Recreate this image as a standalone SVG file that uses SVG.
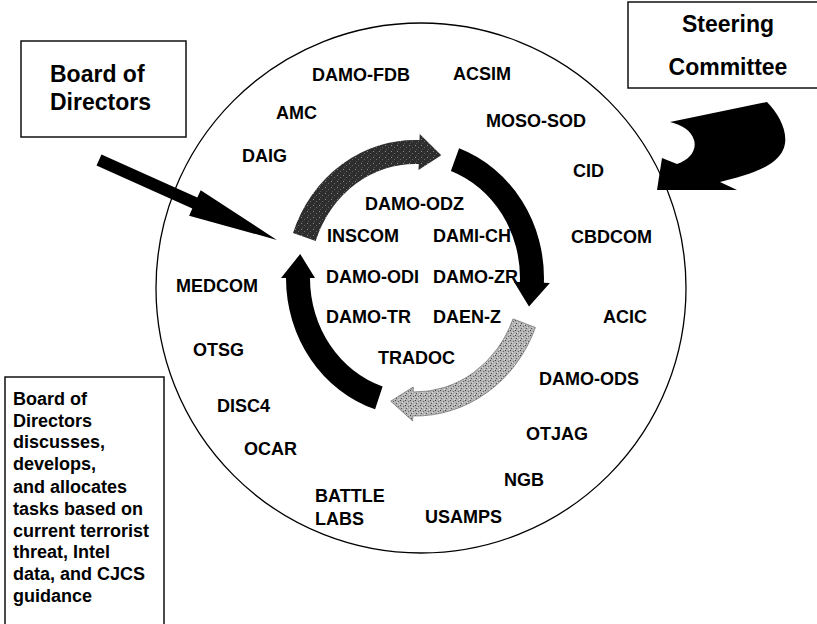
<svg xmlns="http://www.w3.org/2000/svg" width="817" height="624" viewBox="0 0 817 624">
<style>
.lbl{font-family:"Liberation Sans",Arial,sans-serif;font-weight:bold;font-size:18px;fill:#000}
.big{font-family:"Liberation Sans",Arial,sans-serif;font-weight:bold;font-size:23px;fill:#000}
.note{font-family:"Liberation Sans",Arial,sans-serif;font-weight:bold;font-size:18px;fill:#000}
.box{fill:#fff;stroke:#111;stroke-width:1.5}
.ring{fill:none;stroke:#000;stroke-width:1.3}
.blk{fill:#000}
</style>
<defs>
<pattern id="stipDark" width="6" height="6" patternUnits="userSpaceOnUse">
<rect width="6" height="6" fill="#2e2e2e"/>
<rect x="1" y="1" width="1" height="1" fill="#8a8a8a"/>
<rect x="4" y="3" width="1" height="1" fill="#6a6a6a"/>
<rect x="2" y="5" width="1" height="1" fill="#555"/>
</pattern>
<pattern id="stipLight" width="5" height="5" patternUnits="userSpaceOnUse">
<rect width="5" height="5" fill="#b4b4b4"/>
<rect x="0" y="0" width="1" height="1" fill="#444"/>
<rect x="3" y="1" width="1" height="1" fill="#666"/>
<rect x="1" y="3" width="1" height="1" fill="#555"/>
<rect x="4" y="4" width="1" height="1" fill="#e0e0e0"/>
<rect x="2" y="2" width="1" height="1" fill="#d8d8d8"/>
</pattern>
</defs>
<rect width="817" height="624" fill="#fff"/>

<g id="circle-boundary">
<circle class="ring" cx="421" cy="288" r="265"/>
</g>

<g id="board-of-directors">
<rect class="box" x="21" y="41" width="165" height="96"/>
<text class="big" x="50" y="82">Board of</text>
<text class="big" x="50" y="110">Directors</text>
</g>

<g id="steering-committee">
<rect class="box" x="628" y="2" width="195" height="86"/>
<text class="big" x="728" y="32" text-anchor="middle">Steering</text>
<text class="big" x="728" y="75" text-anchor="middle">Committee</text>
</g>

<g id="note-box">
<rect class="box" x="5" y="377" width="159" height="260"/>
<text class="note" x="13" y="405">Board of</text>
<text class="note" x="13" y="427">Directors</text>
<text class="note" x="13" y="448">discusses,</text>
<text class="note" x="13" y="470">develops,</text>
<text class="note" x="13" y="493">and allocates</text>
<text class="note" x="13" y="515">tasks based on</text>
<text class="note" x="13" y="537">current terrorist</text>
<text class="note" x="13" y="558">threat, Intel</text>
<text class="note" x="13" y="580">data, and CJCS</text>
<text class="note" x="13" y="602">guidance</text>
</g>

<g id="connectors">
<polygon class="blk" points="101.5,154.5 197.3,197.5 200.7,190.2 276.9,239.9 189.1,215.8 192.3,208.5 96.5,165.5"/>
<path class="blk" d="M670,122 L767,102 C780,115 790,135 783,150 C775,168 745,176 720,182 L737,190 L657,190 L662,158 L677,164 C690,160 697,150 694,140 C691,130 682,125 670,122 Z"/>
<path fill="url(#stipDark)" d="M293,233.1 A129,138 0 0 1 419.5,140.1 L419.7,134.1 L441.3,155.2 L418.5,170.1 L418.7,164.1 A105,114 0 0 0 315.7,240.9 Z"/>
<path class="blk" d="M459.1,148.3 A129,138 0 0 1 543.9,282.8 L549.9,283 L529,306.4 L513.9,281.8 L519.9,282 A105,114 0 0 0 450.9,170.9 Z"/>
<path fill="url(#stipLight)" stroke="#777" stroke-width="0.8" d="M535.4,327.5 A129,138 0 0 1 412.7,416 L412.7,421 L390.7,401.2 L413.3,387 L413.2,392 A105,114 0 0 0 513,318.9 Z"/>
<path class="blk" d="M375.1,409.3 A129,138 0 0 1 286,278 L281,278 L300.2,254 L315,278 L310,278 A105,114 0 0 0 382.6,386.4 Z"/>
</g>

<g id="n-damo-fdb"><text class="lbl" x="312" y="81">DAMO-FDB</text></g>
<g id="n-acsim"><text class="lbl" x="453" y="80">ACSIM</text></g>
<g id="n-amc"><text class="lbl" x="276" y="119">AMC</text></g>
<g id="n-moso-sod"><text class="lbl" x="486" y="127">MOSO-SOD</text></g>
<g id="n-daig"><text class="lbl" x="242" y="162">DAIG</text></g>
<g id="n-cid"><text class="lbl" x="573" y="177">CID</text></g>
<g id="n-damo-odz"><text class="lbl" x="365" y="210">DAMO-ODZ</text></g>
<g id="n-inscom"><text class="lbl" x="327" y="242">INSCOM</text></g>
<g id="n-dami-ch"><text class="lbl" x="433" y="242">DAMI-CH</text></g>
<g id="n-cbdcom"><text class="lbl" x="571" y="243">CBDCOM</text></g>
<g id="n-medcom"><text class="lbl" x="176" y="292">MEDCOM</text></g>
<g id="n-damo-odi"><text class="lbl" x="326" y="283">DAMO-ODI</text></g>
<g id="n-damo-zr"><text class="lbl" x="433" y="283">DAMO-ZR</text></g>
<g id="n-acic"><text class="lbl" x="603" y="323">ACIC</text></g>
<g id="n-damo-tr"><text class="lbl" x="326" y="323">DAMO-TR</text></g>
<g id="n-daen-z"><text class="lbl" x="433" y="323">DAEN-Z</text></g>
<g id="n-otsg"><text class="lbl" x="193" y="356">OTSG</text></g>
<g id="n-tradoc"><text class="lbl" x="378" y="364">TRADOC</text></g>
<g id="n-damo-ods"><text class="lbl" x="539" y="385">DAMO-ODS</text></g>
<g id="n-disc4"><text class="lbl" x="217" y="412">DISC4</text></g>
<g id="n-otjag"><text class="lbl" x="526" y="440">OTJAG</text></g>
<g id="n-ocar"><text class="lbl" x="244" y="455">OCAR</text></g>
<g id="n-ngb"><text class="lbl" x="504" y="486">NGB</text></g>
<g id="n-battle-labs"><text class="lbl" x="315" y="502">BATTLE</text><text class="lbl" x="315" y="525">LABS</text></g>
<g id="n-usamps"><text class="lbl" x="425" y="523">USAMPS</text></g>
</svg>
